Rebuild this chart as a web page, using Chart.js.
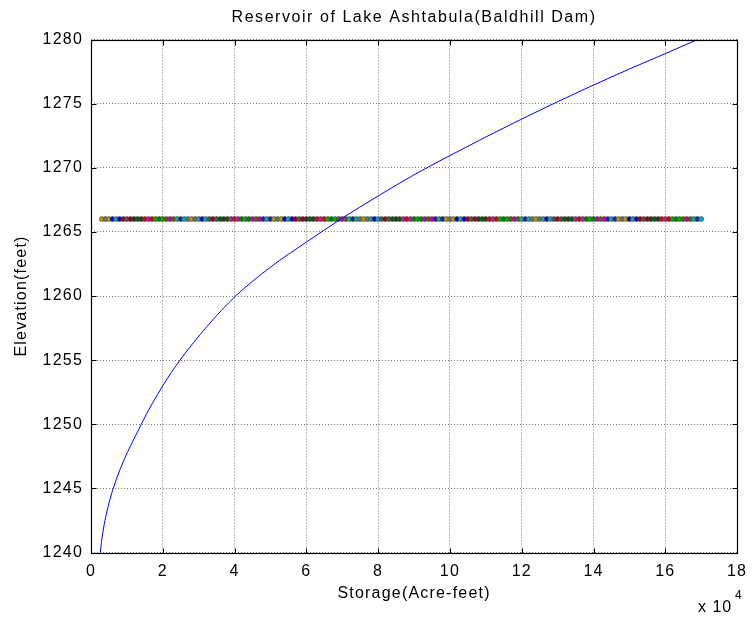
<!DOCTYPE html>
<html>
<head>
<meta charset="utf-8">
<script src="https://cdn.jsdelivr.net/npm/chart.js@4"></script>
<style>
  html, body { margin: 0; padding: 0; background: #fff; }
  #wrap { width: 755px; height: 621px; }
</style>
</head>
<body>
<div id="wrap"><canvas id="chart" width="755" height="621"></canvas></div>
<script>
// elevation-storage curve (acre-feet, feet)
const storage = [2600, 3000, 3900, 6200, 14000, 20000, 24800, 32400, 40300, 50000, 60000, 69600, 80000,
  90000, 100000, 110000, 120000, 130000, 140000, 150000, 160000, 169000];
const elevation = [1240, 1241, 1242.5, 1245, 1250, 1253, 1255, 1257.65, 1260, 1262.25, 1264.2, 1266, 1267.8,
  1269.45, 1270.95, 1272.4, 1273.8, 1275.15, 1276.45, 1277.7, 1278.9, 1280];

// the level line at 1266 ft, one marker per storage step
const levelElevation = 1266;
const levelStorage = [3000, 4000, 5000, 6000, 7000, 8000, 9000, 10000, 11000, 12000, 13000, 14000,
  15000, 16000, 17000, 18000, 19000, 20000, 21000, 22000, 23000, 24000, 25000, 26000, 27000, 28000,
  29000, 30000, 31000, 32000, 33000, 34000, 35000, 36000, 37000, 38000, 39000, 40000, 41000, 42000,
  43000, 44000, 45000, 46000, 47000, 48000, 49000, 50000, 51000, 52000, 53000, 54000, 55000, 56000,
  57000, 58000, 59000, 60000, 61000, 62000, 63000, 64000, 65000, 66000, 67000, 68000, 69000, 70000,
  71000, 72000, 73000, 74000, 75000, 76000, 77000, 78000, 79000, 80000, 81000, 82000, 83000, 84000,
  85000, 86000, 87000, 88000, 89000, 90000, 91000, 92000, 93000, 94000, 95000, 96000, 97000, 98000,
  99000, 100000, 101000, 102000, 103000, 104000, 105000, 106000, 107000, 108000, 109000, 110000,
  111000, 112000, 113000, 114000, 115000, 116000, 117000, 118000, 119000, 120000, 121000, 122000,
  123000, 124000, 125000, 126000, 127000, 128000, 129000, 130000, 131000, 132000, 133000, 134000,
  135000, 136000, 137000, 138000, 139000, 140000, 141000, 142000, 143000, 144000, 145000, 146000,
  147000, 148000, 149000, 150000, 151000, 152000, 153000, 154000, 155000, 156000, 157000, 158000,
  159000, 160000, 161000, 162000, 163000, 164000, 165000, 166000, 167000, 168000, 169000, 170000];

// axis ranges
const xMin = 0, xMax = 180000, xStep = 20000;
const yMin = 1240, yMax = 1280, yStep = 5;

const titleText = 'Reservoir of Lake Ashtabula(Baldhill Dam)';

// marker colours (matlab style random colours)
const markerColors = ['#b0a000', '#008000', '#505050', '#00b0b0', '#e00000', '#0000e0', '#c000c0',
  '#006000', '#707070', '#00b000', '#a00000', '#2020a0', '#b020b0', '#20a0a0', '#606000', '#303030'];

const FONT = 'Liberation Sans, Arial, Helvetica, sans-serif';

const curvePts = [];
storage.forEach((s, i) => curvePts.push({x: s, y: elevation[i]}));
const levelPts = [];
levelStorage.forEach(s => levelPts.push({x: s, y: levelElevation}));
const levelCols = levelStorage.map((s, i) => markerColors[(i * 7 + (i % 3)) % markerColors.length]);

// title over the plot box, box, inward ticks and the x 10^4 note, matlab style
const matlabAxes = {
  id: 'matlabAxes',
  beforeDraw(chart) {
    chart.ctx.letterSpacing = '1.2px';
  },
  afterDraw(chart) {
    const ctx = chart.ctx;
    const a = chart.chartArea;
    const xs = chart.scales.x, ys = chart.scales.y;
    const L = Math.round(a.left) + 0.5, R = Math.round(a.right) + 0.5;
    const T = Math.round(a.top) + 0.5, B = Math.round(a.bottom) + 0.5;
    ctx.save();
    ctx.strokeStyle = '#000';
    ctx.lineWidth = 1;
    ctx.beginPath();
    xs.ticks.forEach(t => {
      const px = Math.round(xs.getPixelForValue(t.value)) + 0.5;
      ctx.moveTo(px, B); ctx.lineTo(px, B - 5);
      ctx.moveTo(px, T); ctx.lineTo(px, T + 5);
    });
    ys.ticks.forEach(t => {
      const py = Math.round(ys.getPixelForValue(t.value)) + 0.5;
      ctx.moveTo(L, py); ctx.lineTo(L + 5, py);
      ctx.moveTo(R, py); ctx.lineTo(R - 5, py);
    });
    ctx.stroke();
    ctx.lineWidth = 1.2;
    ctx.strokeRect(L, T, R - L, B - T);
    ctx.fillStyle = '#000';
    ctx.textBaseline = 'middle';
    ctx.textAlign = 'center';
    ctx.letterSpacing = '1.55px';
    ctx.font = '16px ' + FONT;
    ctx.fillText(titleText, (a.left + a.right) / 2, 17.5);
    ctx.letterSpacing = '1px';
    ctx.textBaseline = 'alphabetic';
    ctx.textAlign = 'left';
    ctx.fillText('x 10', 698, 612);
    ctx.font = '12px ' + FONT;
    ctx.fillText('4', 735, 599);
    ctx.restore();
  }
};

new Chart(document.getElementById('chart'), {
  type: 'scatter',
  data: {
    datasets: [{
      label: 'level',
      data: levelPts,
      pointStyle: 'circle',
      pointRadius: 2.5,
      pointBorderWidth: 0.6,
      pointBackgroundColor: levelCols,
      pointBorderColor: '#444',
      showLine: false,
      order: 2
    }, {
      label: 'curve',
      data: curvePts,
      showLine: true,
      borderColor: '#0000ff',
      borderWidth: 1,
      pointRadius: 0,
      cubicInterpolationMode: 'monotone',
      order: 1
    }]
  },
  options: {
    responsive: false,
    animation: false,
    layout: { padding: { left: 0, right: 13.5, top: 39.5, bottom: 0 } },
    plugins: {
      legend: { display: false },
      tooltip: { enabled: false },
      title: { display: false }
    },
    scales: {
      x: {
        type: 'linear',
        min: xMin, max: xMax,
        afterFit: s => { s.height = 68.5; },
        ticks: {
          stepSize: xStep,
          color: '#000',
          padding: 9,
          maxRotation: 0,
          font: { family: FONT, size: 16 },
          callback: v => String(v / 10000)
        },
        grid: { color: '#777', lineWidth: 1, drawTicks: false },
        border: { display: false, dash: [1, 2] },
        title: {
          display: true,
          text: 'Storage(Acre-feet)',
          color: '#000',
          font: { family: FONT, size: 16 },
          padding: { top: 0, bottom: 18 }
        }
      },
      y: {
        type: 'linear',
        min: yMin, max: yMax,
        afterFit: s => { s.width = 91; },
        ticks: {
          stepSize: yStep,
          color: '#000',
          padding: 8,
          font: { family: FONT, size: 16 },
          callback: v => String(v)
        },
        grid: { color: '#777', lineWidth: 1, drawTicks: false },
        border: { display: false, dash: [1, 2] },
        title: {
          display: true,
          text: 'Elevation(feet)',
          color: '#000',
          font: { family: FONT, size: 16 },
          padding: { top: 12.4, bottom: 0 }
        }
      }
    }
  },
  plugins: [matlabAxes]
});
</script>
</body>
</html>
